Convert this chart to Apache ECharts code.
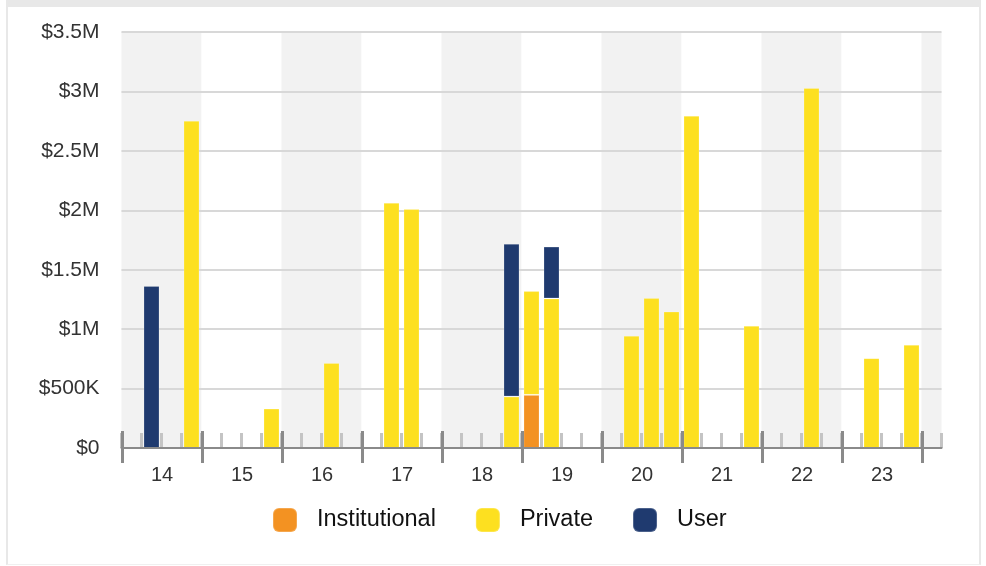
<!DOCTYPE html>
<html>
<head>
<meta charset="utf-8">
<script src="https://cdn.jsdelivr.net/npm/echarts@6/dist/echarts.min.js"></script>
<style>
  html, body { margin: 0; padding: 0; background: #fff; }
  #frame {
    position: absolute; left: 6px; top: 0; width: 971px; height: 557px;
    border-left: 2px solid #e8e8e8; border-right: 2px solid #e8e8e8;
    border-top: 7px solid #e8e8e8; border-bottom: 1px solid #f0f0f0;
  }
  #chart { position: absolute; left: 0; top: 0; width: 986px; height: 566px; }
</style>
</head>
<body>
<div id="frame"></div>
<div id="chart"></div>
<script>
// Quarterly funding by source, 2014 Q1 through 2024 Q1
const quarters = [
  '2014 Q1', '2014 Q2', '2014 Q3', '2014 Q4',
  '2015 Q1', '2015 Q2', '2015 Q3', '2015 Q4',
  '2016 Q1', '2016 Q2', '2016 Q3', '2016 Q4',
  '2017 Q1', '2017 Q2', '2017 Q3', '2017 Q4',
  '2018 Q1', '2018 Q2', '2018 Q3', '2018 Q4',
  '2019 Q1', '2019 Q2', '2019 Q3', '2019 Q4',
  '2020 Q1', '2020 Q2', '2020 Q3', '2020 Q4',
  '2021 Q1', '2021 Q2', '2021 Q3', '2021 Q4',
  '2022 Q1', '2022 Q2', '2022 Q3', '2022 Q4',
  '2023 Q1', '2023 Q2', '2023 Q3', '2023 Q4',
  '2024 Q1'
];

const yearLabels = ['14', '15', '16', '17', '18', '19', '20', '21', '22', '23'];

const institutional = [
  null, null, null, null,
  null, null, null, null,
  null, null, null, null,
  null, null, null, null,
  null, null, null, null,
  447000, null, null, null,
  null, null, null, null,
  null, null, null, null,
  null, null, null, null,
  null, null, null, null,
  null
];

const privateFunds = [
  null, null, null, 2753000,
  null, null, null, 332000,
  null, null, 716000, null,
  null, 2063000, 2010000, null,
  null, null, null, 433000,
  873000, 1258000, null, null,
  null, 944000, 1261000, 1148000,
  2795000, null, null, 1028000,
  null, null, 3029000, null,
  null, 756000, null, 868000,
  null
];

const user = [
  null, 1364000, null, null,
  null, null, null, null,
  null, null, null, null,
  null, null, null, null,
  null, null, null, 1285000,
  null, 437000, null, null,
  null, null, null, null,
  null, null, null, null,
  null, null, null, null,
  null, null, null, null,
  null
];

const yTicks = { min: 0, max: 3500000, step: 500000 };

const colors = { institutional: '#f39222', private: '#fde020', user: '#1f3a6f' };
const font = "'Liberation Sans', Arial, Helvetica, sans-serif";

function money(v) {
  if (v === 0) return '$0';
  if (v >= 1000000) return '$' + (v / 1000000) + 'M';
  return '$' + (v / 1000) + 'K';
}

const chart = echarts.init(document.getElementById('chart'), null, { renderer: 'canvas' });

function barSeries(name, data, color) {
  return {
    name: name,
    type: 'bar',
    stack: 'total',
    xAxisIndex: 0,
    yAxisIndex: 0,
    barWidth: 16,
    data: data,
    itemStyle: { color: color, borderColor: 'rgba(255,255,255,0.2)', borderWidth: 1 },
    emphasis: { disabled: true },
    z: 5
  };
}

chart.setOption({
  animation: false,
  textStyle: { fontFamily: font },
  grid: [
    { left: 121.5, right: 44.5, top: 32, bottom: 118 },
    { left: 122, width: 800, top: 32, bottom: 135 }
  ],
  xAxis: [
    {
      // quarter slots: light minor ticks and alternating year bands
      type: 'category',
      gridIndex: 0,
      position: 'bottom',
      data: quarters,
      boundaryGap: true,
      axisLine: { show: false },
      axisTick: { show: true, interval: 0, inside: true, length: 15, lineStyle: { color: '#c4c4c4', width: 3 } },
      axisLabel: { show: false },
      splitLine: { show: false },
      splitArea: { show: true, interval: 3, areaStyle: { color: ['#f2f2f2', '#ffffff'] } },
      z: 0
    },
    {
      // year labels and the long year-boundary ticks
      type: 'category',
      gridIndex: 1,
      position: 'bottom',
      data: yearLabels,
      boundaryGap: true,
      axisLine: { show: false },
      axisTick: { show: true, interval: 0, length: 32, lineStyle: { color: '#8a8a8a', width: 3 } },
      axisLabel: { show: true, interval: 0, margin: 34, fontSize: 20, color: '#333', fontFamily: font },
      splitLine: { show: false },
      z: 6
    },
    {
      // baseline drawn above the horizontal grid lines
      type: 'category',
      gridIndex: 0,
      position: 'bottom',
      data: quarters,
      axisLine: { show: true, lineStyle: { color: '#8a8a8a', width: 2 } },
      axisTick: { show: false },
      axisLabel: { show: false },
      splitLine: { show: false },
      splitArea: { show: false },
      z: 6
    }
  ],
  yAxis: [
    {
      type: 'value',
      gridIndex: 0,
      min: yTicks.min,
      max: yTicks.max,
      interval: yTicks.step,
      axisLine: { show: false },
      axisTick: { show: false },
      axisLabel: { margin: 22, fontSize: 21, color: '#333', fontFamily: font, formatter: money },
      splitLine: { show: true, lineStyle: { color: '#d8d8d8', width: 2 } },
      z: 2
    },
    {
      type: 'value',
      gridIndex: 1,
      show: false
    }
  ],
  legend: {
    data: ['Institutional', 'Private', 'User'],
    left: 272,
    top: 507,
    padding: 0,
    icon: 'roundRect',
    itemWidth: 24,
    itemHeight: 24,
    itemGap: 39,
    selectedMode: false,
    textStyle: { fontSize: 23.5, color: '#111', fontFamily: font, padding: [0, 0, 0, 15] }
  },
  series: [
    barSeries('Institutional', institutional, colors.institutional),
    barSeries('Private', privateFunds, colors.private),
    barSeries('User', user, colors.user)
  ]
});
</script>
</body>
</html>
